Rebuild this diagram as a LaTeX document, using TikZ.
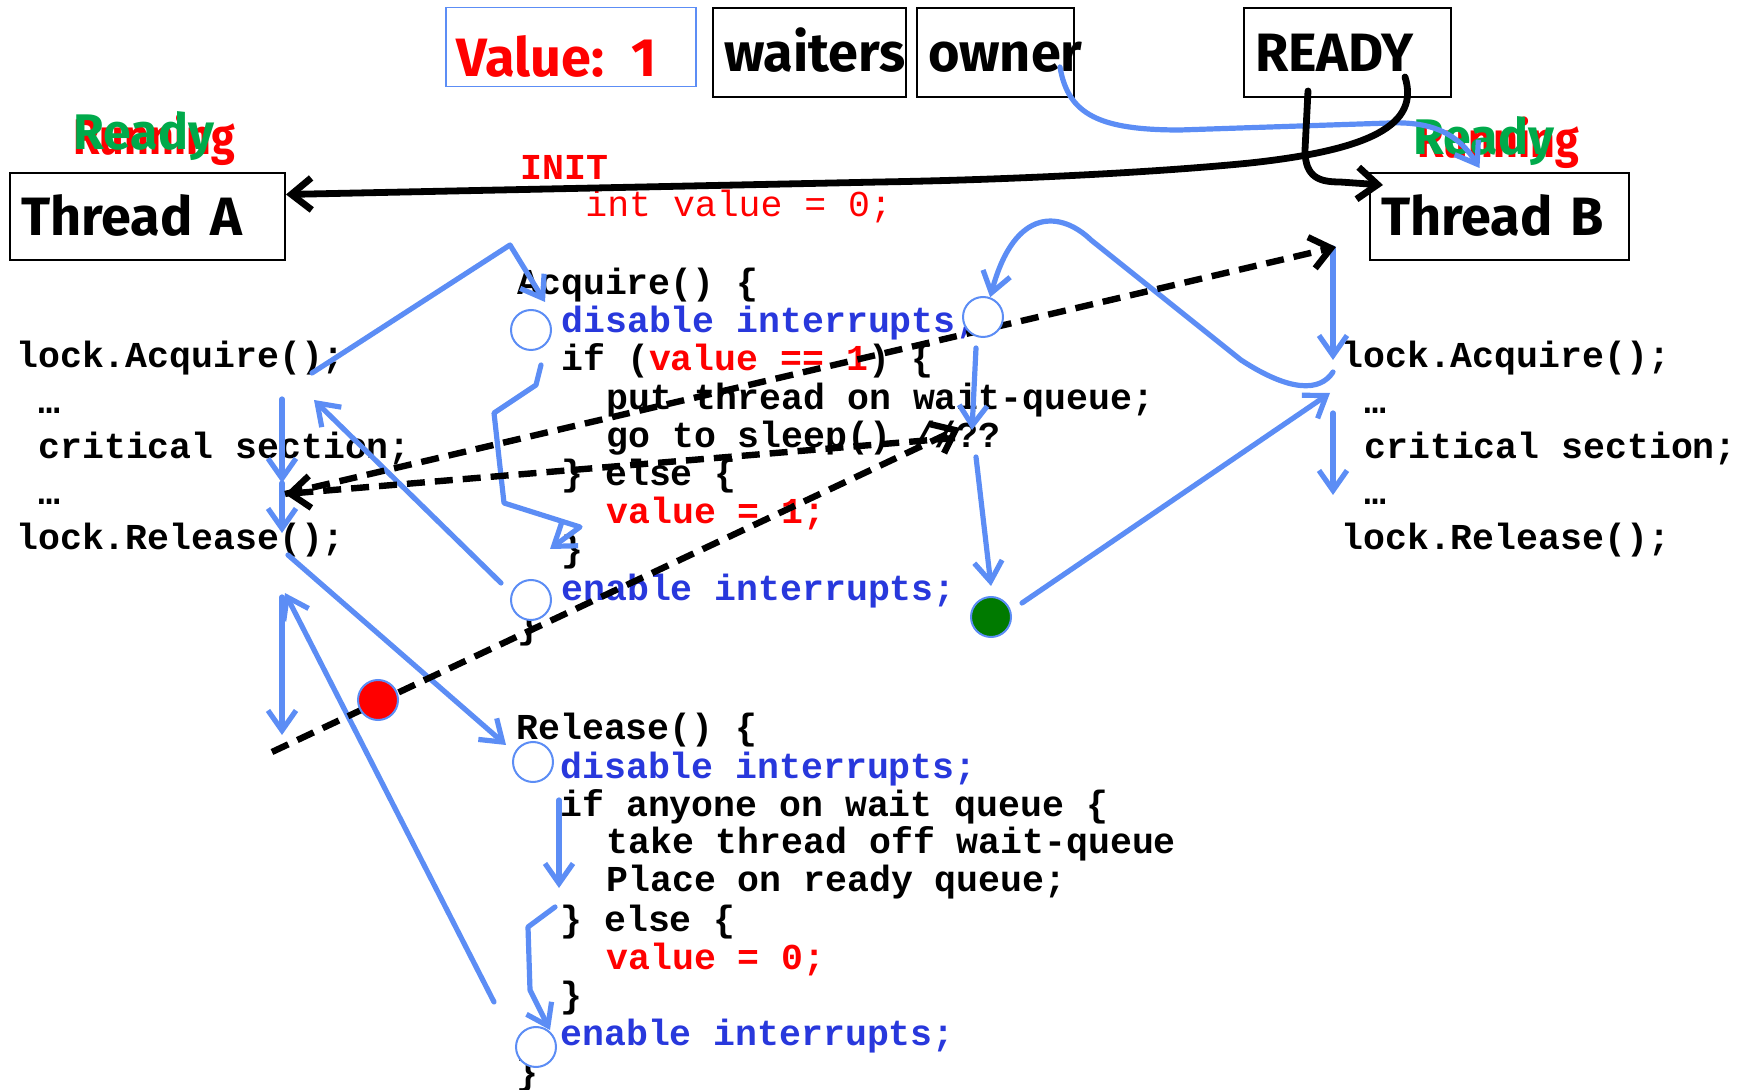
\documentclass[tikz,border=0pt]{standalone}
\usepackage{fontspec}
\setmonofont{Liberation Mono}
\newfontfamily\comic{Fira Sans}
\usetikzlibrary{arrows.meta}
\definecolor{flowblue}{RGB}{92,141,245}
\definecolor{codeblue}{RGB}{40,56,220}
\definecolor{rdy}{RGB}{0,170,75}
\definecolor{dotgreen}{RGB}{0,122,0}
\pgfdeclarelayer{front}
\pgfsetlayers{main,front}

\begin{document}
\begin{tikzpicture}[x=0.5pt, y=-0.5pt,
  box/.style={draw, line width=1pt, anchor=north west, align=left, inner xsep=5.5pt, inner ysep=0pt,
    text height=18.6pt, text depth=0pt, font=\comic\bfseries\fontsize{27}{30}\selectfont},
  state/.style={anchor=base west, inner sep=0pt, font=\comic\bfseries\fontsize{25}{28}\selectfont},
  code/.style={anchor=base west, inner sep=0pt, font=\ttfamily\bfseries\fontsize{18.25}{20}\selectfont},
  flow/.style={draw=flowblue, line width=2.6pt, line cap=round, line join=round,
    -{Straight Barb[length=10pt, width=14pt]}},
  ctx/.style={draw=black, line width=3.4pt, line cap=round, line join=round,
    -{Straight Barb[length=10pt, width=16pt]}},
  sw/.style={ctx, line width=3.2pt, line cap=butt, dash pattern=on 9pt off 5pt},
  dot/.style={circle, draw=flowblue, line width=1pt, fill=white, minimum size=20pt, inner sep=0pt}
]
\useasboundingbox (0,0) rectangle (1752,1090);

% lock fields and threads
\node[box, draw=flowblue, line width=0.75pt, text=red, text width=114pt, minimum height=39.5pt, text height=29.6pt] (val) at (445,7) {Value: 1};
\node[box, text width=85.5pt, minimum height=44.5pt] (wait) at (712,7) {waiters};
\node[box, text width=67.5pt, minimum height=44.5pt] (own) at (916,7) {owner};
\node[box, text width=92.5pt, minimum height=44.5pt] (ready) at (1243,7) {READY};
\node[box, text width=126.5pt, minimum height=43.5pt] (ta) at (9,172) {Thread A};
\node[box, text width=118.5pt, minimum height=43.5pt] (tb) at (1369,172) {Thread B};

\node[state, text=red] (runA) at (73,155) {\scalebox{0.86}[1]{Running}};
\node[state, text=rdy] (rdyA) at (73,150) {Ready};
\node[state, text=red] (runB) at (1417,158) {\scalebox{0.86}[1]{Running}};
\node[state, text=rdy] (rdyB) at (1413,155) {Ready};

\node[code, text=red] (init) at (520,180) {INIT};
\node[code, text=red, font=\ttfamily\fontsize{18.25}{20}\selectfont] (initv) at (585,217) {int value = 0;};

% thread A
\node[code] (a1) at (16,368) {lock.Acquire();};
\node[code] (a2) at (38,414) {…};
\node[code] (a3) at (38,459) {critical section;};
\node[code] (a4) at (38,505) {…};
\node[code] (a5) at (16,550) {lock.Release();};
% thread B
\node[code] (b1) at (1341,368) {lock.Acquire();};
\node[code] (b2) at (1364,414) {…};
\node[code] (b3) at (1364,459) {critical section;};
\node[code] (b4) at (1364,505) {…};
\node[code] (b5) at (1341,550) {lock.Release();};

% Acquire()
\node[code] (acq0) at (517,295) {Acquire() \{};
\node[code, text=codeblue] (acq1) at (561,333) {disable interrupts;};
\node[code] (acq2) at (561,371) {if (\textcolor{red}{value == 1}) \{};
\node[code] (acq3) at (606,410) {put thread on wait-queue;};
\node[code] (acq4) at (606,448) {go to sleep() //??};
\node[code] (acq5) at (561,486) {\} else \{};
\node[code, text=red] (acq6) at (606,524) {value = 1;};
\node[code] (acq7) at (561,562) {\}};
\node[code, text=codeblue] (acq8) at (561,601) {enable interrupts;};
\node[code] (acq9) at (517,639) {\}};

% Release()
\node[code] (rel0) at (516,740) {Release() \{};
\node[code, text=codeblue] (rel1) at (560,778) {disable interrupts;};
\node[code] (rel2) at (560,816) {if anyone on wait queue \{};
\node[code] (rel3) at (606,854) {take thread off wait-queue};
\node[code] (rel4) at (606,892) {Place on ready queue;};
\node[code] (rel5) at (560,931) {\} else \{};
\node[code, text=red] (rel6) at (606,969) {value = 0;};
\node[code] (rel7) at (560,1007) {\}};
\node[code, text=codeblue] (rel8) at (560,1045) {enable interrupts;};
\node[code] (rel9) at (516,1084) {\}};

% interrupt points
\begin{pgfonlayer}{front}
\node[dot] (c1) at (531,330) {};
\node[dot] (c2) at (983,317) {};
\node[dot] (c3) at (531,600) {};
\node[dot] (c4) at (533,762) {};
\node[dot] (c5) at (536,1047) {};
\node[dot, fill=dotgreen] (cg) at (991,617) {};
\node[dot, fill=red] (cr) at (378,700) {};
\end{pgfonlayer}

% free ends
\coordinate (aAcqOut) at (312,373);
\coordinate (aPeak) at (510,245);
\coordinate (acqTop) at (545,302);
\coordinate (aV0) at (282,399);
\coordinate (aV1) at (282,483);
\coordinate (aV2) at (282,533);
\coordinate (aRet) at (314,400);
\coordinate (c3out) at (501,583);
\coordinate (aRelOut) at (288,555);
\coordinate (relTop) at (506,745);
\coordinate (relV0) at (559,800);
\coordinate (relV1) at (559,888);
\coordinate (c5out) at (494,1002);
\coordinate (aUp) at (285,593);
\coordinate (aDown) at (282,735);
\coordinate (c2out) at (976,348);
\coordinate (sleepIn) at (972,430);
\coordinate (sleepOut) at (976,457);
\coordinate (cgOut) at (1022,603);
\coordinate (bAcqIn) at (1330,393);
\coordinate (bAcqOut) at (1333,372);
\coordinate (bV0) at (1333,248);
\coordinate (bV1) at (1333,360);
\coordinate (bV2) at (1333,413);
\coordinate (bV3) at (1333,495);
\coordinate (swA) at (285,494);
\coordinate (swB) at (1336,247);
\coordinate (sleep) at (960,428);
\coordinate (sleepA) at (955,438);
\coordinate (aLow) at (272,752);

% thread A through Acquire and Release
\draw[flow] (aAcqOut) -- (aPeak) -- (acqTop);
\draw[flow] (541,365) -- (536,385) -- (494,413) -- (504,503) -- (580,527) -- (550,549);
\draw[flow] (c3out) -- (aRet);
\draw[flow] (aV0) -- (aV1);
\draw[flow] (aV1) -- (aV2);
\draw[flow] (aRelOut) -- (relTop);
\draw[flow] (relV0) -- (relV1);
\draw[flow] (555,907) -- (528,927) -- (530,990) -- (550,1030);
\draw[flow] (c5out) -- (aUp);
\draw[flow] (282,597) -- (aDown);
% thread B
\draw[flow] (bV0) -- (bV1);
\draw[flow] (bV2) -- (bV3);
\draw[flow] (bAcqOut) .. controls (1320,392) and (1290,392) .. (1241,360) -- (1091,240)
  .. controls (1062,212) and (1015,205) .. (c2.70);
\draw[flow] (c2out) -- (sleepIn);
\draw[flow] (sleepOut) -- ([yshift=5pt]cg.north);
\draw[flow] (cgOut) -- (bAcqIn);
\draw[flow] ([shift={(-7.5pt,15.5pt)}]own.south east) .. controls (1068,115) and (1100,130) .. (1180,130)
  -- (1390,123) .. controls (1440,121) and (1462,140) .. ([xshift=-10pt,yshift=2pt]tb.north);

% scheduler
\draw[ctx] ([shift={(-23.5pt,10.5pt)}]ready.south east) .. controls (1420,125) and (1370,150) .. (1250,163)
  .. controls (1150,173) and (1000,180) .. (880,182) -- ([yshift=11pt]ta.east);
\draw[ctx] ([shift={(32.5pt,3.5pt)}]ready.south west) -- (1305,150) .. controls (1305,178) and (1320,182) .. (1340,182)
  -- ([shift={(7pt,-6.5pt)}]tb.north west);

% context switches
\draw[sw] (swA) -- (swB);
\draw[sw] (sleepA) -- (swA);
\draw[sw] (aLow) -- (sleep);
\end{tikzpicture}
\end{document}
